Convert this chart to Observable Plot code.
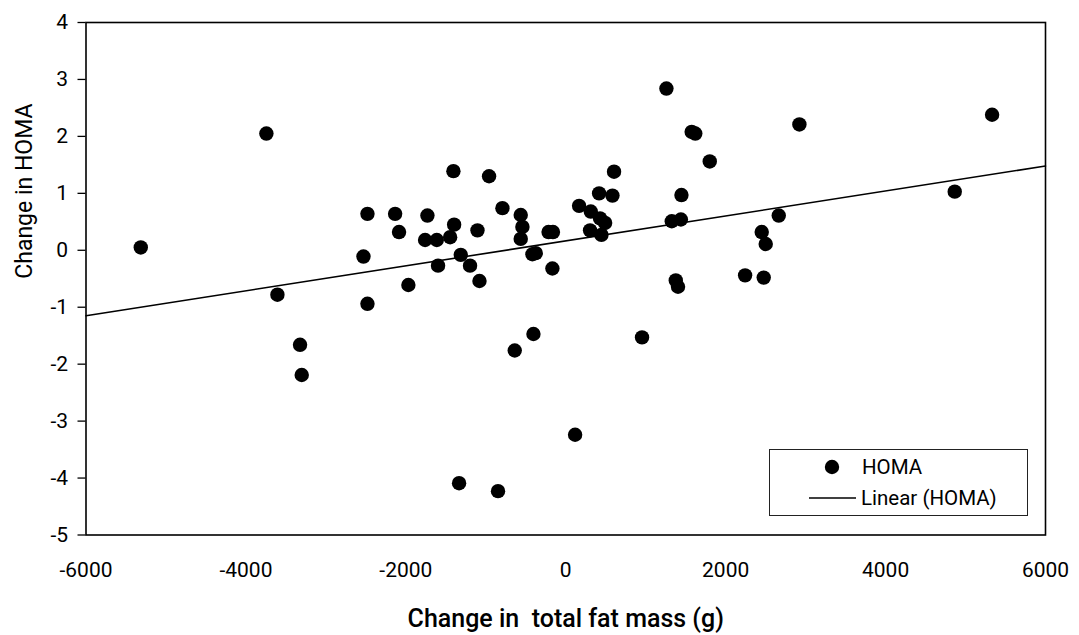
<!DOCTYPE html>
<html>
<head>
<meta charset="utf-8">
<script src="https://cdn.jsdelivr.net/npm/d3@7"></script>
<script src="https://cdn.jsdelivr.net/npm/@observablehq/plot@0.6"></script>
<style>
  html, body { margin: 0; padding: 0; background: #fff; }
  #wrap { position: relative; width: 1079px; height: 635px; }
  #legend {
    position: absolute; left: 769px; top: 449px; width: 259px; height: 67px;
    border: 1px solid #222; background: #fff; box-sizing: border-box;
    font-family: Roboto, "Liberation Sans", sans-serif; font-size: 20.5px; color: #000;
  }
  #legend .row { position: absolute; left: 0; height: 24px; display: flex; align-items: center; }
  #legend svg { display: block; }
</style>
</head>
<body>
<div id="wrap"></div>
<script>
// Change in total fat mass (g)
const fatChange = [
  -5315, -3744, -3606, -3323, -3302, -2530, -2480, -2480, -2134, -2085,
  -1968, -1730, -1759, -1613, -1597, -1446, -1396, -1405, -1313, -1334,
  -1197, -1104, -1079, -959, -847, -792, -638, -563, -542, -563,
  -417, -375, -404, -215, -160, -167, 117, 167, 313, 304,
  417, 429, 446, 492, 584, 604, 954, 1259, 1326, 1376,
  1404, 1440, 1447, 1575, 1620, 1801, 2243, 2451, 2476, 2501,
  2664, 2922, 4865, 5332
];
// Change in HOMA
const homaChange = [
  0.05, 2.05, -0.78, -1.66, -2.19, -0.11, -0.94, 0.64, 0.64, 0.32,
  -0.61, 0.61, 0.18, 0.18, -0.27, 0.23, 0.45, 1.39, -0.08, -4.09,
  -0.27, 0.35, -0.54, 1.30, -4.23, 0.74, -1.76, 0.62, 0.41, 0.20,
  -0.07, -0.05, -1.47, 0.32, 0.32, -0.32, -3.24, 0.78, 0.68, 0.35,
  1.00, 0.56, 0.27, 0.48, 0.96, 1.38, -1.53, 2.84, 0.51, -0.53,
  -0.64, 0.54, 0.97, 2.08, 2.05, 1.56, -0.44, 0.32, -0.48, 0.11,
  0.61, 2.21, 1.03, 2.38
];
// Linear trendline (HOMA) end points
const trendX = [-6000, 6000];
const trendY = [-1.15, 1.48];

const xTicks = [-6000, -4000, -2000, 0, 2000, 4000, 6000];
const yTicks = [-5, -4, -3, -2, -1, 0, 1, 2, 3, 4];

const xTitle = "Change in  total fat mass (g)";
const yTitle = "Change in HOMA";
const legendLabels = ["HOMA", "Linear (HOMA)"];

const points = fatChange.map((x, i) => ({x, y: homaChange[i]}));
const trend = trendX.map((x, i) => ({x, y: trendY[i]}));

const chart = Plot.plot({
  width: 1079,
  height: 635,
  marginLeft: 85.5,
  marginRight: 34,
  marginTop: 22,
  marginBottom: 100.5,
  style: {fontFamily: "Roboto, 'Liberation Sans', sans-serif", fontSize: "21px", color: "#000", background: "#fff"},
  x: {domain: [-6000, 6000]},
  y: {domain: [-5, 4]},
  marks: [
    Plot.axisY({ticks: yTicks, tickFormat: d => String(d), tickSize: 8, tickPadding: 10, label: null, stroke: "#000", fill: "#000", strokeWidth: 1.3}),
    Plot.axisX({ticks: xTicks, tickFormat: d => String(d), tickSize: 0, tickPadding: 27, label: null, fill: "#000"}),
    Plot.line(trend, {x: "x", y: "y", stroke: "#000", strokeWidth: 1.6}),
    Plot.dot(points, {x: "x", y: "y", r: 7.2, fill: "#000", stroke: "none"}),
    Plot.frame({stroke: "#000", strokeWidth: 1.6}),
    Plot.text([xTitle], {frameAnchor: "bottom", lineAnchor: "top", dy: 74, fontSize: 25, fontWeight: 500, fill: "#000", text: d => d}),
    Plot.text([yTitle], {frameAnchor: "left", rotate: -90, dx: -61, fontSize: 23, fill: "#000", text: d => d})
  ]
});
chart.querySelectorAll("text").forEach(t => t.style.whiteSpace = "pre");
const wrap = document.getElementById("wrap");
wrap.appendChild(chart);

// Legend (HTML overlay inside the plot area)
const legend = document.createElement("div");
legend.id = "legend";
legend.innerHTML = `
  <div class="row" style="top:5px;left:50px;">
    <svg width="24" height="24"><circle cx="12" cy="12" r="7.2" fill="#000"/></svg>
    <span style="margin-left:18px;">${legendLabels[0]}</span>
  </div>
  <div class="row" style="top:36px;left:38px;">
    <svg width="50" height="24"><line x1="1" x2="48" y1="12" y2="12" stroke="#000" stroke-width="1.6"/></svg>
    <span style="margin-left:3px;">${legendLabels[1]}</span>
  </div>`;
wrap.appendChild(legend);
</script>
</body>
</html>
